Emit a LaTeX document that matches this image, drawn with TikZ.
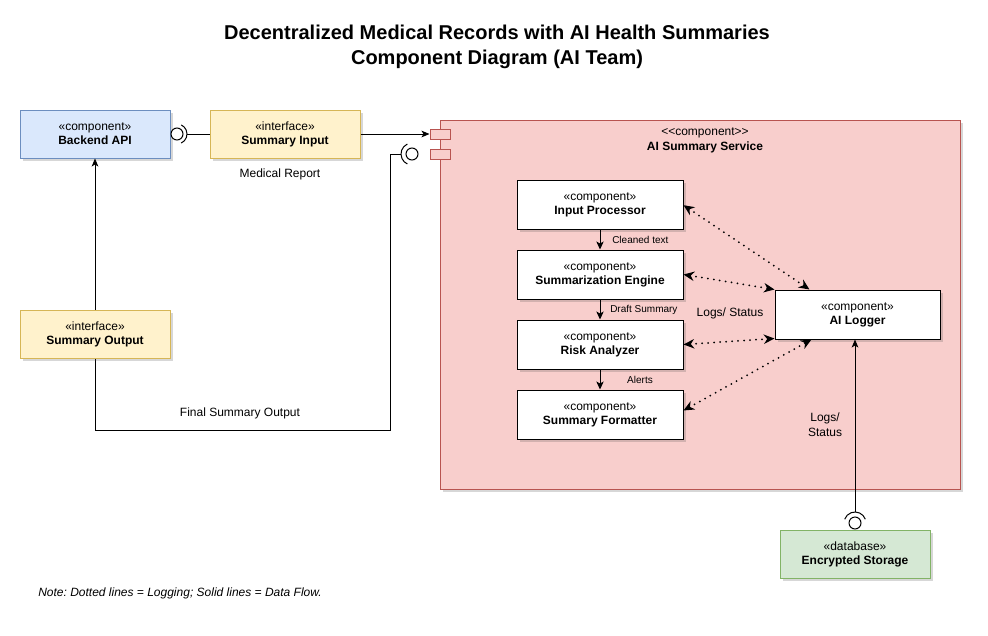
\documentclass[tikz,border=0pt]{standalone}
\usepackage{fontspec}
\setmainfont{Liberation Sans}
\frenchspacing
\usetikzlibrary{arrows.meta,shadows,calc}
\definecolor{bluefill}{HTML}{DAE8FC}\definecolor{bluedraw}{HTML}{6C8EBF}
\definecolor{yelfill}{HTML}{FFF2CC}\definecolor{yeldraw}{HTML}{D6B656}
\definecolor{redfill}{HTML}{F8CECC}\definecolor{reddraw}{HTML}{B85450}
\definecolor{grnfill}{HTML}{D5E8D4}\definecolor{grndraw}{HTML}{82B366}
\begin{document}
\begin{tikzpicture}[x=0.75pt,y=-0.75pt,
  shd/.style={drop shadow={opacity=0.22, shadow xshift=2pt, shadow yshift=-2pt, fill=black!70}},
  box/.style={draw, line width=0.75pt, align=center, inner sep=0pt,
    font=\fontsize{9}{10.5}\selectfont, shd},
  outer/.style={box, minimum width=112.5pt, minimum height=36pt},
  inner/.style={box, fill=white, draw=black, minimum width=124.5pt, minimum height=36.75pt},
  port/.style={draw=reddraw, fill=redfill, line width=0.75pt, minimum width=15pt, minimum height=7.5pt, inner sep=0pt},
  ball/.style={circle, draw, fill=white, line width=0.75pt, minimum size=9pt, inner sep=0pt},
  flow/.style={line width=0.75pt, -{Stealth[length=6pt,width=5pt,inset=1.5pt]}},
  iflow/.style={line width=0.75pt, -{Stealth[length=6pt,width=5.5pt,inset=1.5pt]}},
  logarr/.style={line width=1.5pt, line cap=round, dash pattern=on 0pt off 4.5pt,
    {Stealth[length=8pt,width=7pt,inset=2.5pt]}-{Stealth[length=8pt,width=7pt,inset=2.5pt]}},
  lbl/.style={font=\fontsize{9}{11.25}\selectfont, align=center, inner sep=0pt},
  slbl/.style={font=\fontsize{7.5}{9}\selectfont, inner sep=0pt}]
\useasboundingbox (0,0) rectangle (988,635);
\fill[white] (0,0) rectangle (988,635);

% title
\node[font=\bfseries\fontsize{15}{18.75}\selectfont, align=center] (title) at (497,47)
  {Decentralized Medical Records with AI Health Summaries\\Component Diagram (AI Team)};

% service container
\node[box, fill=redfill, draw=reddraw, minimum width=390pt, minimum height=276.75pt] (svc) at (700,304.5) {};
\node[lbl] (svcl) at (705,140) {{<}{<}component{>}{>}\\\textbf{AI Summary Service}};
\node[port] (p1) at (440,134) {};
\node[port] (p2) at (440,154) {};

% outer nodes
\node[outer, fill=bluefill, draw=bluedraw] (BA) at (95,134) {«component»\\\textbf{Backend API}};
\node[outer, fill=yelfill, draw=yeldraw] (SI) at (285,134) {«interface»\\\textbf{Summary Input}};

% inner components
\node[inner] (IP) at (600,204.5) {«component»\\\textbf{Input Processor}};
\node[inner] (SE) at (600,274.5) {«component»\\\textbf{Summarization Engine}};
\node[inner] (RA) at (600,344.5) {«component»\\\textbf{Risk Analyzer}};
\node[inner] (SF) at (600,414.5) {«component»\\\textbf{Summary Formatter}};
\node[box, fill=white, draw=black, minimum width=123.75pt, minimum height=36.75pt] (L) at (857.5,314.5) {«component»\\\textbf{AI Logger}};

% interface 1: Backend API provided, Summary Input required
\node[ball] (b1) at (177,134) {};
\draw[line width=0.75pt] ([shift={(-65:7.5pt)}]b1.center) arc[start angle=-65, end angle=65, radius=7.5pt];
\draw[line width=0.75pt] ([xshift=7.5pt]b1.center) -- (SI.west);
\draw[flow] (SI.east) -- (p1.west);
\node[lbl] (mr) at (280,174) {Medical Report};

% return path
\node[ball] (b2) at (412,154) {};
\draw[line width=0.75pt] ([shift={(115:8.25pt)}]b2.center) arc[start angle=115, end angle=245, radius=8.25pt];
\coordinate (r1) at (390,154);
\coordinate (r2) at (390,430);
\draw[flow] ([xshift=-8.25pt]b2.center) -- (r1) -- (r2) -| (BA.south);
\node[lbl] (fso) at (240,413) {Final Summary Output};
\node[outer, fill=yelfill, draw=yeldraw] (SO) at (95,334) {«interface»\\\textbf{Summary Output}};

% internal flow
\draw[iflow] (IP.south) -- (SE.north);
\draw[iflow] (SE.south) -- (RA.north);
\draw[iflow] (RA.south) -- (SF.north);
\node[slbl, anchor=west] (ct) at (612,240) {Cleaned text};
\node[slbl, anchor=west] (ds) at (610,310) {Draft Summary};
\node[slbl] (al) at (640,380) {Alerts};

% logging
\draw[logarr] ([yshift=-0.5pt]IP.east) -- ($(L.north west)+(35,0)$);
\draw[logarr] (SE.east) -- (L.north west);
\draw[logarr] (RA.east) -- ([yshift=0.75pt]L.south west);
\draw[logarr] ([yshift=3pt]SF.east) -- ($(L.south west)+(37,0)$);
\node[lbl] (ls) at (730,313) {Logs/ Status};

% storage
\node[outer, fill=grnfill, draw=grndraw] (ES) at (855,554) {«database»\\\textbf{Encrypted Storage}};
\node[ball] (b3) at (855,523) {};
\draw[line width=0.75pt] ([shift={(20:8.25pt)}]b3.center) arc[start angle=20, end angle=160, radius=8.25pt];
\draw[flow] ([yshift=8.25pt]b3.center) -- (b3.center |- L.south);
\node[lbl] (ls2) at (825,425) {Logs/\\Status};

% note
\node[font=\itshape\fontsize{9}{11}\selectfont, anchor=west, inner sep=0pt] (note) at (38,593)
  {Note: Dotted lines = Logging; Solid lines = Data Flow.};
\end{tikzpicture}
\end{document}
